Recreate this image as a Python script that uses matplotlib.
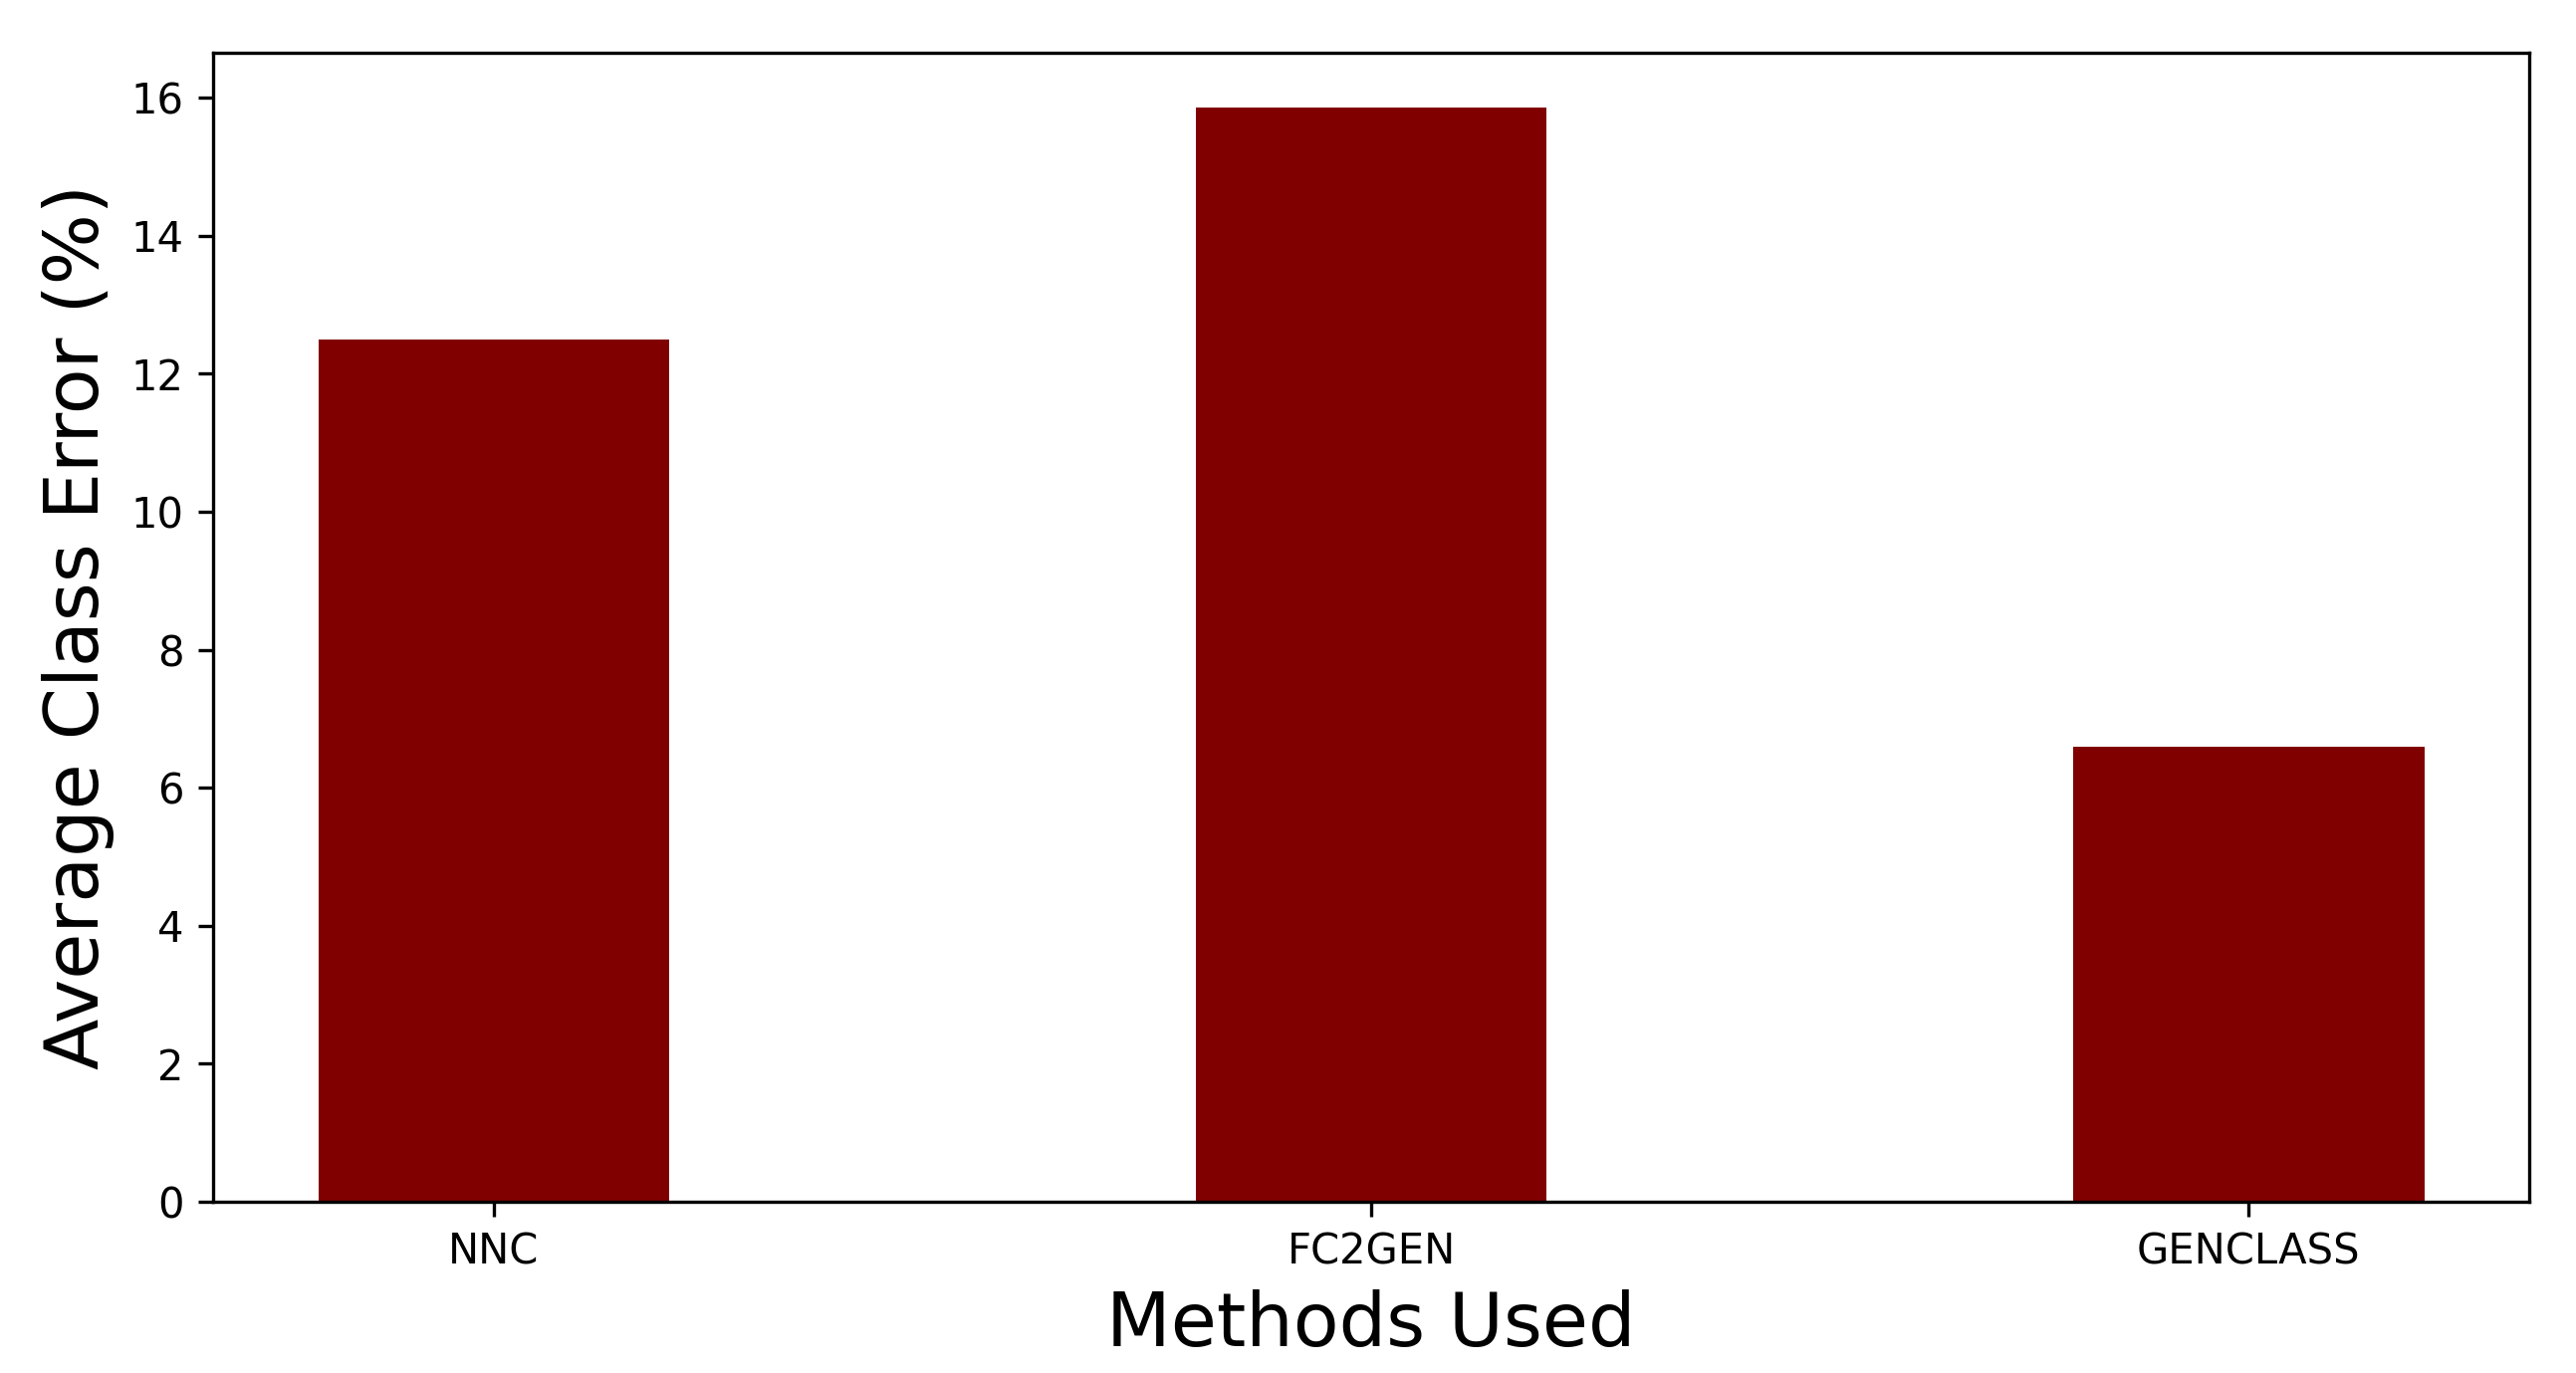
import matplotlib
matplotlib.use("Agg")
import matplotlib.pyplot as plt

# values
methods = ["NNC", "FC2GEN", "GENCLASS"]
avg_class_error = [12.5, 15.86, 6.59]

fig, ax = plt.subplots(figsize=(2587 / 300, 1379 / 300), dpi=300)
ax.bar(methods, avg_class_error, width=0.4, color="maroon")
ax.set_xlabel("Methods Used", fontsize=18)
ax.set_ylabel("Average Class Error (%)", fontsize=18)
ax.tick_params(labelsize=10)

plt.subplots_adjust(left=0.0827, right=0.982, bottom=0.1247, top=0.9616)
plt.savefig("out.png", dpi=300)
